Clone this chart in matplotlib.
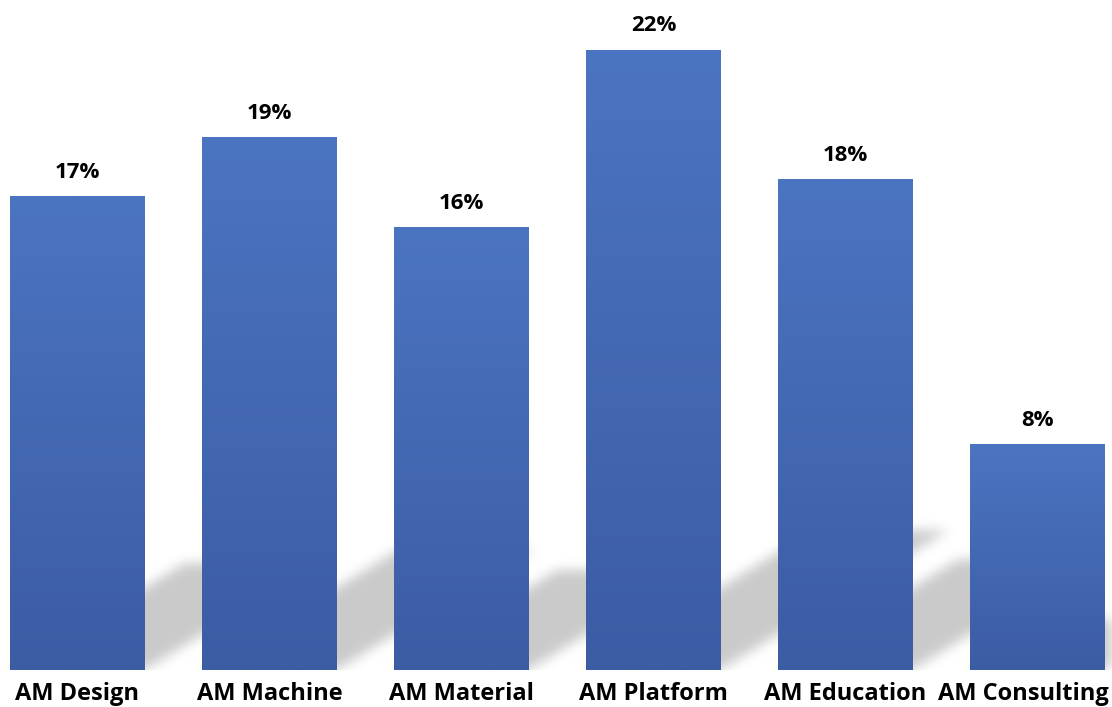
import numpy as np
import matplotlib
matplotlib.use("Agg")
import matplotlib.pyplot as plt
from matplotlib.colors import LinearSegmentedColormap
from matplotlib.transforms import ScaledTranslation

categories = ["AM Design", "AM Machine", "AM Material", "AM Platform", "AM Education", "AM Consulting"]
values = [16.8, 18.9, 15.7, 22.0, 17.4, 8.0]
value_labels = ["17%", "19%", "16%", "22%", "18%", "8%"]

plt.rcParams['font.family'] = ['Open Sans', 'DejaVu Sans']

W, H = 1112, 707
fig = plt.figure(figsize=(W / 100, H / 100), dpi=100)
ax = fig.add_axes([0, 37 / H, 1, 1 - 37 / H])

x = np.arange(len(categories))
bar_w = 0.703
xlim = (-0.4036, 5.388)
ylim = (0, 23.76)
ax.set_xlim(*xlim)
ax.set_ylim(*ylim)

# ---- blurred perspective shadows (projection of each bar onto the ground) ----
nx, ny = 1112, 670
gx = np.linspace(xlim[0], xlim[1], nx)
gy = np.linspace(ylim[0], ylim[1], ny)
GX, GY = np.meshgrid(gx, gy)
shift_per_unit = 0.0543   # x shift (data units) per unit of bar height
squash = 0.226            # vertical scale of the shadow
mask = np.zeros_like(GX)
for xi, v in zip(x, values):
    top = v * squash
    inside_y = (GY >= 0) & (GY <= top)
    t = GY / squash
    left = xi - bar_w / 2 + t * shift_per_unit
    right = xi + bar_w / 2 + t * shift_per_unit
    m = inside_y & (GX >= left) & (GX <= right)
    mask = np.maximum(mask, m.astype(float))

def gblur(a, sigma, axis):
    r = int(3 * sigma)
    k = np.exp(-0.5 * (np.arange(-r, r + 1) / sigma) ** 2)
    k /= k.sum()
    return np.apply_along_axis(lambda s: np.convolve(s, k, mode='same'), axis, a)

mask = gblur(mask, 6, 0)
mask = gblur(mask, 6, 1)
rgba = np.zeros((ny, nx, 4))
rgba[..., 3] = mask * 0.21
ax.imshow(rgba, extent=(xlim[0], xlim[1], ylim[0], ylim[1]), origin='lower',
          aspect='auto', zorder=1, interpolation='bilinear')

# ---- bars with vertical gradient ----
cmap = LinearSegmentedColormap.from_list("g", ["#3C5CA4", "#4B74C1"])
grad = np.linspace(0, 1, 256).reshape(-1, 1)
bars = ax.bar(x, values, width=bar_w, color="#4468B4", zorder=2, linewidth=0)
for b in bars:
    x0, y0 = b.get_x(), b.get_y()
    im = ax.imshow(grad, extent=(x0, x0 + b.get_width(), y0, y0 + b.get_height()),
                   origin='lower', cmap=cmap, aspect='auto', zorder=3)
    im.set_clip_path(b)

for xi, v, lab in zip(x, values, value_labels):
    ax.annotate(lab, (xi, v), xytext=(0, 9.5), textcoords='offset points',
                ha='center', va='bottom', fontsize=16, fontweight='bold',
                color='black', zorder=4)

ax.set_xticks(x)
ax.set_xticklabels(categories, fontsize=17, fontweight='bold')
ax.tick_params(axis='x', length=0, pad=8.5)
ax.set_yticks([])
for s in ax.spines.values():
    s.set_visible(False)

# keep labels inside the canvas
fig.canvas.draw()
r = fig.canvas.get_renderer()
for t in ax.get_xticklabels():
    bb = t.get_window_extent(r)
    over = bb.x1 - (W - 3)
    if over > 0:
        t.set_transform(t.get_transform() + ScaledTranslation(-over / 100, 0, fig.dpi_scale_trans))

fig.savefig("out.png", dpi=100)
